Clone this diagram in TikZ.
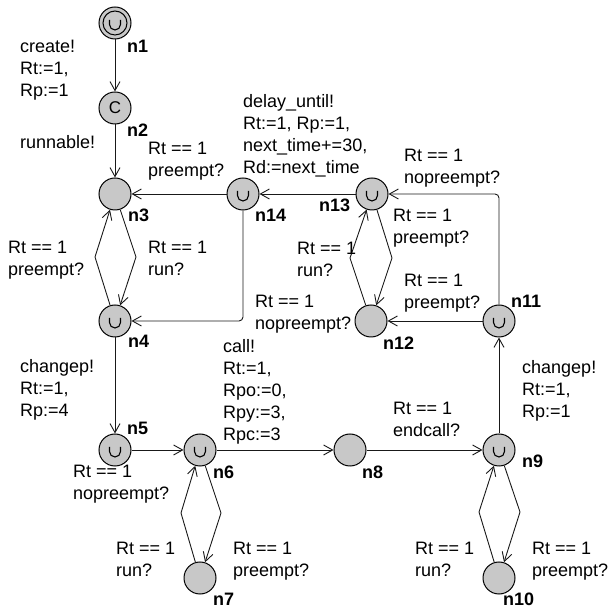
\documentclass[tikz,border=0pt]{standalone}
\usepackage{fontspec}
\setmainfont{Liberation Sans}
\usetikzlibrary{arrows.meta}
\definecolor{locfill}{RGB}{200,200,200}
\tikzset{
  loc/.style={circle,draw,fill=locfill,minimum size=32pt,inner sep=0pt,line width=1pt},
  urg/.style={loc,path picture={
      \draw[line width=1.1pt] ([shift={(-5.5pt,3pt)}]path picture bounding box.center)
        -- ++(0,-4.5pt) arc[start angle=180,end angle=360,radius=5.5pt] -- ++(0,4.5pt);}},
  init/.style={loc,path picture={
      \draw[line width=1pt] (path picture bounding box.center) circle[radius=12pt];
      \draw[line width=1.1pt] ([shift={(-5.5pt,3pt)}]path picture bounding box.center)
        -- ++(0,-4.5pt) arc[start angle=180,end angle=360,radius=5.5pt] -- ++(0,4.5pt);}},
  tr/.style={->,line width=0.9pt,draw=black!90},
  lbl/.style={anchor=north west,align=left,inner sep=0pt},
  nm/.style={anchor=base west,inner sep=0pt,font=\bfseries\fontsize{18}{22}\selectfont},
}
\begin{document}
\begin{tikzpicture}[x=1pt,y=1pt,>={Straight Barb[length=9pt,width=10pt]},font=\fontsize{18}{22}\selectfont]
\useasboundingbox (0,0) rectangle (610,610);
% locations
\node[init] (n1) at (115,587) {};
\node[loc] (n2) at (115,502) {\fontsize{17}{17}\selectfont C};
\node[loc] (n3) at (115,416) {};
\node[urg] (n4) at (115,289) {};
\node[urg] (n5) at (115,160) {};
\node[urg] (n6) at (200,160) {};
\node[loc] (n7) at (200,32) {};
\node[loc] (n8) at (350,160) {};
\node[urg] (n9) at (499,160) {};
\node[loc] (n10) at (499,32) {};
\node[urg] (n11) at (499,289) {};
\node[loc] (n12) at (371,289) {};
\node[urg] (n13) at (372,416) {};
\node[urg] (n14) at (243,416) {};
% location names
\node[nm] (n1name) at (127,557) {n1};
\node[nm] (n2name) at (127,473) {n2};
\node[nm] (n3name) at (128,388) {n3};
\node[nm] (n4name) at (128,262) {n4};
\node[nm] (n5name) at (127,175) {n5};
\node[nm] (n6name) at (213,131) {n6};
\node[nm] (n7name) at (213,5) {n7};
\node[nm] (n8name) at (362,131) {n8};
\node[nm] (n9name) at (522,142) {n9};
\node[nm] (n10name) at (503,5) {n10};
\node[nm] (n11name) at (511,302) {n11};
\node[nm] (n12name) at (383,260) {n12};
\node[nm] (n13name) at (319,398) {n13};
\node[nm] (n14name) at (255,388) {n14};
% transitions
\draw[tr] (n1) -- (n2);
\draw[tr] (n2) -- (n3);
\draw[tr] (n14) -- (n3);
\draw[tr] (n3) -- (136,353) -- (n4);
\draw[tr] (n4) -- (95,353) -- (n3);
\draw[tr,rounded corners=4pt] (n14) |- (n4);
\draw[tr] (n4) -- (n5);
\draw[tr] (n5) -- (n6);
\draw[tr] (n6) -- (n8);
\draw[tr] (n6) -- (221,97) -- (n7);
\draw[tr] (n7) -- (181,97) -- (n6);
\draw[tr] (n8) -- (n9);
\draw[tr] (n9) -- (520,98) -- (n10);
\draw[tr] (n10) -- (479,98) -- (n9);
\draw[tr] (n9) -- (n11);
\draw[tr] (n11) -- (n12);
\draw[tr,rounded corners=4pt] (n11) |- (n13);
\draw[tr] (n13) -- (392,352) -- (n12);
\draw[tr] (n12) -- (350,352) -- (n13);
\draw[tr] (n13) -- (n14);
% guards, syncs and updates
\node[lbl] (create) at (20,570) {create!\\Rt:=1,\\Rp:=1};
\node[lbl] (runnable) at (20,475) {runnable!};
\node[lbl] (g14to3) at (148,468) {Rt == 1\\preempt?};
\node[lbl] (g3to4) at (148,369) {Rt == 1\\run?};
\node[lbl] (g4to3) at (8,369) {Rt == 1\\preempt?};
\node[lbl] (chgA) at (20,251) {changep!\\Rt:=1,\\Rp:=4};
\node[lbl] (g5to6) at (73,145) {Rt == 1\\nopreempt?};
\node[lbl] (call) at (223,271) {call!\\Rt:=1,\\Rpo:=0,\\Rpy:=3,\\Rpc:=3};
\node[lbl] (g7to6) at (116,68) {Rt == 1\\run?};
\node[lbl] (g6to7) at (233,68) {Rt == 1\\preempt?};
\node[lbl] (endcall) at (393,208) {Rt == 1\\endcall?};
\node[lbl] (g10to9) at (415,68) {Rt == 1\\run?};
\node[lbl] (g9to10) at (532,68) {Rt == 1\\preempt?};
\node[lbl] (chgB) at (522,250) {changep!\\Rt:=1,\\Rp:=1};
\node[lbl] (g11to12) at (404,336) {Rt == 1\\preempt?};
\node[lbl] (g11to13) at (404,461) {Rt == 1\\nopreempt?};
\node[lbl] (g13to12) at (393,401) {Rt == 1\\preempt?};
\node[lbl] (g12to13) at (297,368) {Rt == 1\\run?};
\node[lbl] (g14to4) at (255,315) {Rt == 1\\nopreempt?};
\node[lbl] (delay) at (243,516) {delay\_until!\\Rt:=1, Rp:=1,\\next\_time+=30,\\Rd:=next\_time};
\end{tikzpicture}
\end{document}
